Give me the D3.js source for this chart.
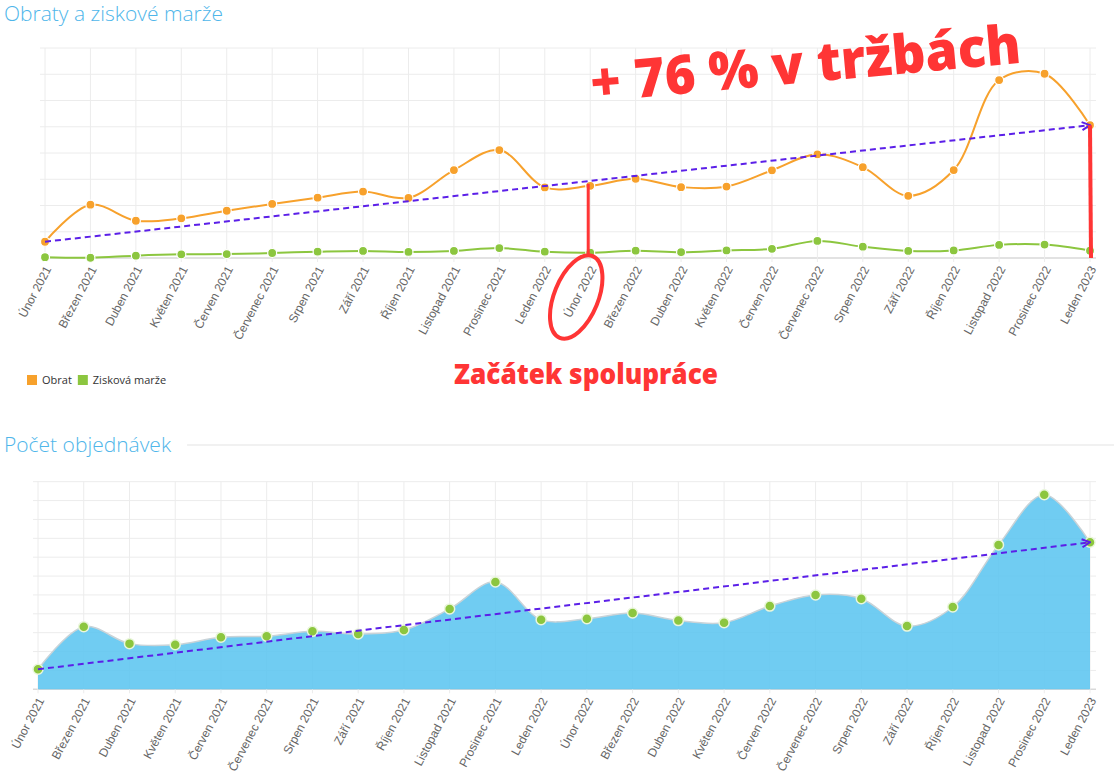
<!DOCTYPE html>
<html>
<head>
<meta charset="utf-8">
<script src="https://cdn.jsdelivr.net/npm/d3@7"></script>
<style>
  body { margin: 0; background: #fff; }
  svg { display: block; }
</style>
</head>
<body>
<svg id="chart" width="1114" height="782"></svg>
<script>
const months = ['Únor 2021', 'Březen 2021', 'Duben 2021', 'Květen 2021', 'Červen 2021', 'Červenec 2021',
  'Srpen 2021', 'Září 2021', 'Říjen 2021', 'Listopad 2021', 'Prosinec 2021', 'Leden 2022',
  'Únor 2022', 'Březen 2022', 'Duben 2022', 'Květen 2022', 'Červen 2022', 'Červenec 2022',
  'Srpen 2022', 'Září 2022', 'Říjen 2022', 'Listopad 2022', 'Prosinec 2022', 'Leden 2023']

// obrat a marže (bez popisků osy y)
const obrat = [6.2, 20.3, 14.2, 15.1, 18.0, 20.6, 23.0, 25.3, 22.9, 33.5, 41.1, 26.9,
  27.5, 30.2, 27.0, 27.2, 33.4, 39.5, 34.6, 23.7, 33.5, 67.8, 70.2, 50.6]
const marze = [0.3, 0.1, 0.9, 1.4, 1.5, 1.9, 2.4, 2.7, 2.3, 2.7, 3.8, 2.4,
  2.0, 2.8, 2.2, 2.9, 3.5, 6.5, 4.3, 2.7, 2.9, 5.0, 5.1, 2.8]
const objednavky = [10.6, 33.2, 24.2, 23.6, 27.6, 28.1, 30.7, 29.3, 31.4, 42.6, 56.9, 36.9,
  37.4, 40.4, 36.4, 35.3, 44.1, 50.0, 48.0, 33.5, 43.6, 76.5, 103.1, 77.9]

const topTicks = d3.range(0, 81, 10)
const bottomTicks = d3.range(0, 111, 10)
const startMonth = 'Únor 2022'
const growthText = '+ 76 % v tržbách'
const startText = 'Začátek spolupráce'
const legendItems = [{ name: 'Obrat', color: '#f7a12c' }, { name: 'Zisková marže', color: '#8cc63f' }]

const svg = d3.select('#chart')
const red = '#ff3535'
const purple = '#5b1fe8'
const labelFont = '"Liberation Sans", Arial, sans-serif'

const defs = svg.append('defs')
defs.append('marker')
  .attr('id', 'arrow')
  .attr('viewBox', '0 0 10 10')
  .attr('refX', 9)
  .attr('refY', 5)
  .attr('markerWidth', 10)
  .attr('markerHeight', 10)
  .attr('markerUnits', 'userSpaceOnUse')
  .attr('orient', 'auto')
  .append('path')
  .attr('d', 'M1,1 L9,5 L1,9')
  .style('fill', 'none')
  .style('stroke', purple)
  .style('stroke-width', 2)

function drawGrid(g, x, y, ticks, right) {
  const y0 = y.range()[0]
  const y1 = y.range()[1]
  const x0 = x.range()[0]

  g.append('g').selectAll('line')
    .data(ticks)
    .enter()
    .append('line')
    .attr('x1', x0 - 5)
    .attr('x2', right)
    .attr('y1', d => y(d))
    .attr('y2', d => y(d))
    .style('stroke', d => d === 0 ? '#d9d9d9' : '#ececec')
    .style('stroke-width', d => d === 0 ? 1.5 : 1)

  g.append('g').selectAll('line')
    .data(months)
    .enter()
    .append('line')
    .attr('x1', d => x(d))
    .attr('x2', d => x(d))
    .attr('y1', y1)
    .attr('y2', y0 + 4)
    .style('stroke', '#ececec')

  // popisky osy x
  g.append('g').selectAll('text')
    .data(months)
    .enter()
    .append('text')
    .attr('transform', d => `translate(${x(d) + 3}, ${y0 + 9}) rotate(-62)`)
    .attr('text-anchor', 'end')
    .attr('dy', '0.35em')
    .style('font-family', labelFont)
    .style('font-size', '12px')
    .style('fill', '#666')
    .text(d => d)
}

function drawTrend(g, x, y, values) {
  const last = months.length - 1
  g.append('line')
    .attr('x1', x(months[0]))
    .attr('y1', y(values[0]))
    .attr('x2', x(months[last]))
    .attr('y2', y(values[last]))
    .attr('marker-end', 'url(#arrow)')
    .style('stroke', purple)
    .style('stroke-width', 2)
    .style('stroke-dasharray', '6,4')
}

function title(text, yPos) {
  return svg.append('text')
    .attr('x', 4)
    .attr('y', yPos)
    .style('font-family', '"Open Sans", sans-serif')
    .style('font-weight', 300)
    .style('font-size', '21px')
    .style('fill', '#4fb6ea')
    .text(text)
}

// ---------- Obraty a ziskové marže ----------
title('Obraty a ziskové marže', 21)

const x1 = d3.scalePoint().domain(months).range([45, 1090])
const y1 = d3.scaleLinear().domain([0, 80]).range([258, 48])
const g1 = svg.append('g')
drawGrid(g1, x1, y1, topTicks, 1096)

const line1 = (vals) => d3.line()
  .x((d, i) => x1(months[i]))
  .y(d => y1(d))
  .curve(d3.curveCatmullRom.alpha(0.5))(vals)

const series = [
  { values: marze, color: legendItems[1].color },
  { values: obrat, color: legendItems[0].color }
]
series.forEach(s => {
  g1.append('path')
    .attr('d', line1(s.values))
    .style('fill', 'none')
    .style('stroke', s.color)
    .style('stroke-width', 2)

  g1.append('g').selectAll('circle')
    .data(s.values)
    .enter()
    .append('circle')
    .attr('cx', (d, i) => x1(months[i]))
    .attr('cy', d => y1(d))
    .attr('r', 4.5)
    .style('fill', s.color)
    .style('stroke', '#fff')
    .style('stroke-width', 1.2)
})

drawTrend(g1, x1, y1, obrat)

// legenda
const legend = svg.append('g').attr('transform', 'translate(27, 375)')
let lx = 0
legendItems.forEach(item => {
  legend.append('rect')
    .attr('x', lx)
    .attr('y', 0)
    .attr('width', 10)
    .attr('height', 10)
    .style('fill', item.color)
  const t = legend.append('text')
    .attr('x', lx + 15)
    .attr('y', 9)
    .style('font-family', '"Open Sans", sans-serif')
    .style('font-size', '11px')
    .style('fill', '#333')
    .text(item.name)
  lx += 15 + t.node().getComputedTextLength() + 6
})

// ---------- Počet objednávek ----------
const t2 = title('Počet objednávek', 452)
svg.append('line')
  .attr('x1', 4 + t2.node().getComputedTextLength() + 16)
  .attr('x2', 1114)
  .attr('y1', 445)
  .attr('y2', 445)
  .style('stroke', '#e3e3e3')

const x2 = d3.scalePoint().domain(months).range([38, 1090])
const y2 = d3.scaleLinear().domain([0, 110]).range([689.3, 481.7])
const g2 = svg.append('g')
drawGrid(g2, x2, y2, bottomTicks, 1096)

const curve2 = d3.curveCatmullRom.alpha(0.5)
g2.append('path')
  .attr('d', d3.area()
    .x((d, i) => x2(months[i]))
    .y0(y2(0))
    .y1(d => y2(d))
    .curve(curve2)(objednavky))
  .style('fill', '#5cc5f0')
  .style('opacity', 0.88)

g2.append('path')
  .attr('d', d3.line()
    .x((d, i) => x2(months[i]))
    .y(d => y2(d))
    .curve(curve2)(objednavky))
  .style('fill', 'none')
  .style('stroke', '#c9d3d8')
  .style('stroke-width', 1.5)

g2.append('g').selectAll('circle')
  .data(objednavky)
  .enter()
  .append('circle')
  .attr('cx', (d, i) => x2(months[i]))
  .attr('cy', d => y2(d))
  .attr('r', 5)
  .style('fill', '#8cc63f')
  .style('stroke', '#eaf6dc')
  .style('stroke-width', 1.5)

drawTrend(g2, x2, y2, objednavky)

// ---------- červené poznámky ----------
const ann = svg.append('g')
const si = months.indexOf(startMonth)
const li = months.length - 1

ann.append('line')
  .attr('x1', x1(startMonth) - 2)
  .attr('x2', x1(startMonth) - 2)
  .attr('y1', y1(obrat[si]) - 2)
  .attr('y2', 256)
  .style('stroke', red)
  .style('stroke-width', 3)

ann.append('line')
  .attr('x1', x1(months[li]))
  .attr('x2', x1(months[li]) + 1)
  .attr('y1', y1(obrat[li]))
  .attr('y2', y1(0))
  .style('stroke', red)
  .style('stroke-width', 4)

ann.append('ellipse')
  .attr('transform', `translate(${x1(startMonth) - 14}, 297) rotate(22)`)
  .attr('rx', 22)
  .attr('ry', 44)
  .style('fill', 'none')
  .style('stroke', red)
  .style('stroke-width', 4)

ann.append('text')
  .attr('x', 454)
  .attr('y', 384)
  .attr('textLength', 264)
  .attr('lengthAdjust', 'spacingAndGlyphs')
  .style('font-family', '"Open Sans", sans-serif')
  .style('font-weight', 800)
  .style('font-size', '28px')
  .style('fill', red)
  .text(startText)

ann.append('text')
  .attr('transform', 'translate(592, 102) rotate(-5.2)')
  .attr('textLength', 432)
  .attr('lengthAdjust', 'spacingAndGlyphs')
  .style('font-family', '"Open Sans", sans-serif')
  .style('font-weight', 800)
  .style('font-size', '54px')
  .style('fill', red)
  .text(growthText)
</script>
</body>
</html>
